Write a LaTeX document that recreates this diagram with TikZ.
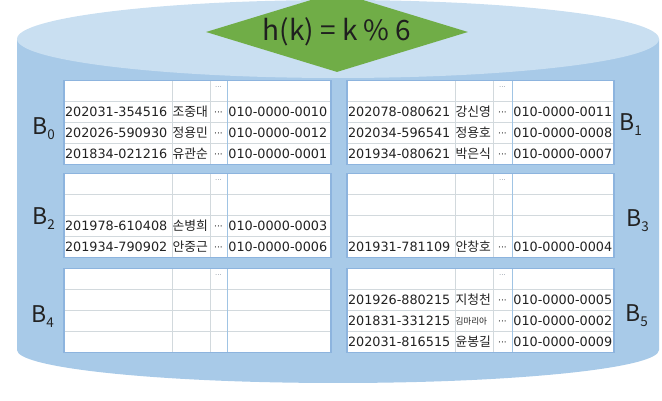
\documentclass[tikz,border=0pt]{standalone}
\usepackage{fontspec}
\setmainfont{DejaVu Sans}
\newfontfamily\kofont{Noto Sans CJK KR}
\usetikzlibrary{shapes.geometric}
\definecolor{sideblue}{RGB}{168,202,232}
\definecolor{topblue}{RGB}{201,223,241}
\definecolor{dgreen}{RGB}{112,173,71}
\definecolor{tborder}{RGB}{141,180,222}
\definecolor{tgrid}{RGB}{210,217,221}
\definecolor{tsep}{RGB}{160,196,228}
\definecolor{txt}{RGB}{34,34,34}
\definecolor{hdots}{RGB}{140,150,162}
% table grid: #1..#5 column x, #6 top y, #7 bottom y
\newcommand\bucketgrid[7]{%
  \fill[white] (#1,#6) rectangle (#5,#7);
  \foreach \k in {1,2,3}{\draw[gridline] (#1,{#6-\k*(#6-#7)/4}) -- (#5,{#6-\k*(#6-#7)/4});}
  \draw[gridline] (#2,#6) -- (#2,#7);
  \draw[gridline] (#3,#6) -- (#3,#7);
  \draw[sepline] (#4,#6) -- (#4,#7);
  \draw[borderline] (#1,#6) rectangle (#5,#7);
}
% data row: #1 name, #2 x0, #3 x1, #4 dots centre x, #5 x3, #6 row mid y, #7 id, #8 korean, #9 phone
\newcommand\datarow[9]{%
  \node[cell] (#1id) at (#2+0.8,#6-4.7) {#7};
  \node[kname] (#1nm) at (#3+0.3,#6-4.9) {#8};
  \node[dotcell] (#1dt) at (#4,#6-3.4) {···};
  \node[cell] (#1ph) at (#5+1.2,#6-4.7) {#9};
}
\begin{document}
\begin{tikzpicture}[x=1pt,y=1pt,
  gridline/.style={draw=tgrid, line width=0.8pt},
  sepline/.style={draw=tsep, line width=0.8pt},
  borderline/.style={draw=tborder, line width=1.1pt},
  cell/.style={inner sep=0pt, anchor=base west, font=\fontsize{12.8}{14}\selectfont, text=txt},
  kname/.style={inner sep=0pt, anchor=base west, font=\kofont\fontsize{12.8}{14}\selectfont, text=txt},
  dotcell/.style={inner sep=0pt, anchor=base, font=\fontsize{9}{10}\selectfont, text=txt},
  headdots/.style={inner sep=0pt, anchor=base, font=\fontsize{7}{8}\selectfont, text=hdots},
  blabel/.style={inner sep=0pt, anchor=base west, font=\kofont\fontsize{23}{24}\selectfont, text=txt},
]
\useasboundingbox (0,0) rectangle (662,401);
\clip (0,0) rectangle (662,401);
% cylinder
\fill[sideblue] (17,362) -- (17,51) arc[start angle=180, end angle=360, x radius=321, y radius=33] -- (659,362) -- cycle;
\fill[topblue] (338,362) ellipse[x radius=321, y radius=39];
% hash function
\node[diamond, fill=dgreen, draw=none, aspect=3.3, inner sep=0pt, minimum width=262pt, minimum height=80pt] (hash) at (337,369) {};
\node[inner sep=0pt, anchor=base, font=\kofont\fontsize{28}{30}\selectfont, text=black!88] (hashtext) at (337,360) {h(k) = k \% 6};

% tables
\bucketgrid{64}{172}{210}{227}{331}{320.5}{236.5}
\bucketgrid{347}{455}{493}{512}{614}{320.5}{236.5}
\bucketgrid{64}{172}{210}{227}{331}{227.5}{143.5}
\bucketgrid{347}{455}{493}{512}{614}{227.5}{143.5}
\bucketgrid{64}{172}{210}{227}{331}{132.5}{48.5}
\bucketgrid{347}{455}{493}{512}{614}{132.5}{48.5}

% header dots
\node[headdots] (hd0) at (218.5,311) {···};
\node[headdots] (hd1) at (502.5,311) {···};
\node[headdots] (hd2) at (218.5,218) {···};
\node[headdots] (hd3) at (502.5,218) {···};
\node[headdots] (hd4) at (218.5,123) {···};
\node[headdots] (hd5) at (502.5,123) {···};

% B0
\datarow{a1}{64}{172}{218.5}{227}{289}{202031-354516}{조중대}{010-0000-0010}
\datarow{a2}{64}{172}{218.5}{227}{268}{202026-590930}{정용민}{010-0000-0012}
\datarow{a3}{64}{172}{218.5}{227}{247}{201834-021216}{유관순}{010-0000-0001}
% B1
\datarow{b1}{347}{455}{502.5}{512}{289}{202078-080621}{강신영}{010-0000-0011}
\datarow{b2}{347}{455}{502.5}{512}{268}{202034-596541}{정용호}{010-0000-0008}
\datarow{b3}{347}{455}{502.5}{512}{247}{201934-080621}{박은식}{010-0000-0007}
% B2
\datarow{c1}{64}{172}{218.5}{227}{175}{201978-610408}{손병희}{010-0000-0003}
\datarow{c2}{64}{172}{218.5}{227}{154}{201934-790902}{안중근}{010-0000-0006}
% B3
\datarow{d1}{347}{455}{502.5}{512}{154}{201931-781109}{안창호}{010-0000-0004}
% B5
\datarow{f1}{347}{455}{502.5}{512}{101}{201926-880215}{지청천}{010-0000-0005}
\node[cell] (f2id) at (347.8,75.3) {201831-331215};
\node[kname, font=\kofont\fontsize{8.6}{10}\selectfont] (f2nm) at (455.3,76.3) {김마리아};
\node[dotcell] (f2dt) at (502.5,76.6) {···};
\node[cell] (f2ph) at (513.2,75.3) {010-0000-0002};
\datarow{f3}{347}{455}{502.5}{512}{59}{202031-816515}{윤봉길}{010-0000-0009}

% bucket labels
\node[blabel] (B0) at (32,266) {B\raisebox{-5pt}{\fontsize{13.5}{13}\selectfont 0}};
\node[blabel] (B1) at (619,270) {B\raisebox{-5pt}{\fontsize{13.5}{13}\selectfont 1}};
\node[blabel] (B2) at (32,176) {B\raisebox{-5pt}{\fontsize{13.5}{13}\selectfont 2}};
\node[blabel] (B3) at (626,174) {B\raisebox{-5pt}{\fontsize{13.5}{13}\selectfont 3}};
\node[blabel] (B4) at (31,78) {B\raisebox{-5pt}{\fontsize{13.5}{13}\selectfont 4}};
\node[blabel] (B5) at (625,79) {B\raisebox{-5pt}{\fontsize{13.5}{13}\selectfont 5}};
\end{tikzpicture}
\end{document}
